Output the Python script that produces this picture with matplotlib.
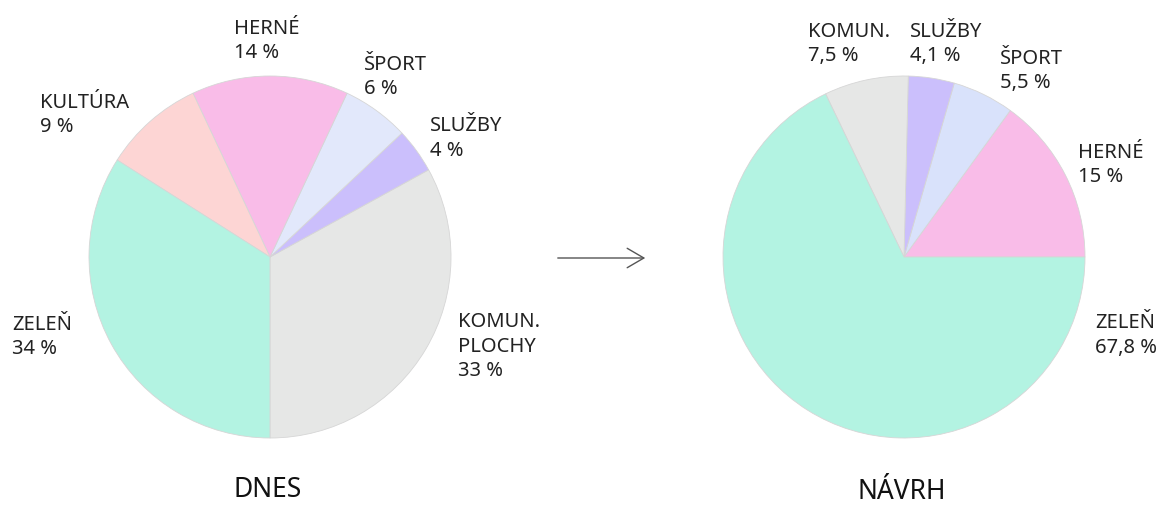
import matplotlib.pyplot as plt
from matplotlib.patches import FancyArrowPatch

plt.rcParams['font.family'] = ['Noto Sans', 'DejaVu Sans']

# DNES (today)
now_labels = ["KOMUN.\nPLOCHY", "SLUŽBY", "ŠPORT", "HERNÉ", "KULTÚRA", "ZELEŇ"]
now_values = [33, 4, 6, 14, 9, 34]
now_text = ["33 %", "4 %", "6 %", "14 %", "9 %", "34 %"]
now_colors = ["#e6e7e6", "#cbbffc", "#e2e8fb", "#f9bce8", "#fdd5d4", "#b3f3e2"]

# NÁVRH (proposal)
new_labels = ["HERNÉ", "ŠPORT", "SLUŽBY", "KOMUN.", "ZELEŇ"]
new_values = [15, 5.5, 4.1, 7.5, 67.8]
new_text = ["15 %", "5,5 %", "4,1 %", "7,5 %", "67,8 %"]
new_colors = ["#f9bce8", "#d9e2fb", "#cbbffc", "#e6e7e6", "#b3f3e2"]

W, H = 1166, 505
fig = plt.figure(figsize=(W / 100, H / 100), dpi=100)

def pie_axes(cx, cy, r):
    ax = fig.add_axes([(cx - r) / W, 1 - (cy + r) / H, 2 * r / W, 2 * r / H])
    ax.axis('off')
    return ax

wp = dict(edgecolor='#d6d6d6', linewidth=0.6)

ax1 = pie_axes(270, 257, 181)
ax1.pie(now_values, colors=now_colors, startangle=-90, counterclock=True,
        radius=1, wedgeprops=wp, frame=False)
ax1.set_xlim(-1, 1)
ax1.set_ylim(-1, 1)

ax2 = pie_axes(904, 257, 181)
ax2.pie(new_values, colors=new_colors, startangle=0, counterclock=True,
        radius=1, wedgeprops=wp, frame=False)
ax2.set_xlim(-1, 1)
ax2.set_ylim(-1, 1)

# x and first baseline of each label block, pixels from top-left
now_pos = [(458, 327), (430, 131), (364, 70), (234, 34), (40, 108), (12, 330)]
new_pos = [(1078, 158), (1000, 64), (910, 37), (808, 37), (1095, 328)]
pitch = 24.5

def put_labels(labels, texts, pos):
    for lab, t, (x, y) in zip(labels, texts, pos):
        lines = lab.split("\n") + [t]
        for i, line in enumerate(lines):
            fig.text(x / W, 1 - (y + i * pitch) / H, line, ha='left', va='baseline',
                     fontsize=14.5, color='#222222')

put_labels(now_labels, now_text, now_pos)
put_labels(new_labels, new_text, new_pos)

fig.text(268 / W, 1 - 497 / H, "DNES", ha='center', va='baseline', fontsize=19, color='#111111')
fig.text(902 / W, 1 - 499 / H, "NÁVRH", ha='center', va='baseline', fontsize=19, color='#111111')

fig.patches.append(FancyArrowPatch(
    (555 / W, 1 - 258 / H), (648 / W, 1 - 258 / H), transform=fig.transFigure,
    arrowstyle='->,head_length=12,head_width=7', mutation_scale=1,
    color='#555555', linewidth=1.0))

fig.savefig("out.png", dpi=100)
